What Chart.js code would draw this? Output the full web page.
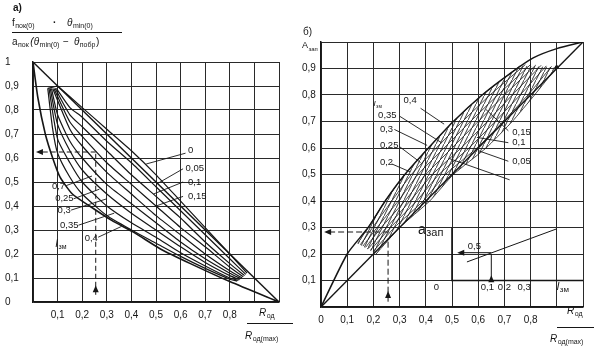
<!DOCTYPE html>
<html>
<head>
<meta charset="utf-8">
<script src="https://cdn.jsdelivr.net/npm/chart.js@4.4.0/dist/chart.umd.min.js"></script>
<style>
  body { margin: 0; background: #fff; width: 605px; height: 351px; position: relative; overflow: hidden; }
  #wrap-a { position: absolute; left: 0; top: 0; }
  #wrap-b { position: absolute; left: 300px; top: 0; }
</style>
</head>
<body>
<div id="wrap-a"><canvas id="chart-a" width="300" height="351"></canvas></div>
<div id="wrap-b"><canvas id="chart-b" width="305" height="351"></canvas></div>
<script>
// ---------- panel а) ----------
const diagA = [[0, 1], [1, 0]];
const lowA = [[0, 1], [0.02, 0.85], [0.05, 0.7], [0.08, 0.6], [0.11, 0.52], [0.16, 0.45], [0.23, 0.4], [0.32, 0.34], [0.41, 0.29], [0.52, 0.22], [0.64, 0.16], [0.8, 0.085], [1, 0]];
const capA = [[0.06, 0.89], [0.1, 0.9]];

// curves for I_зм = 0 ... 0.4
const curvesA = [
  [[0.1, 0.9], [0.2, 0.81], [0.3, 0.72], [0.4, 0.63], [0.5, 0.53], [0.6, 0.42], [0.7, 0.31], [0.8, 0.2], [0.87, 0.12]],
  [[0.095, 0.89], [0.15, 0.81], [0.2, 0.77], [0.3, 0.67], [0.4, 0.58], [0.5, 0.48], [0.6, 0.38], [0.7, 0.28], [0.8, 0.18], [0.865, 0.115]],
  [[0.09, 0.89], [0.15, 0.78], [0.2, 0.73], [0.3, 0.63], [0.4, 0.53], [0.5, 0.44], [0.6, 0.35], [0.7, 0.25], [0.8, 0.16], [0.86, 0.11]],
  [[0.085, 0.89], [0.15, 0.75], [0.2, 0.69], [0.3, 0.58], [0.4, 0.49], [0.5, 0.4], [0.6, 0.31], [0.7, 0.23], [0.8, 0.145], [0.855, 0.105]],
  [[0.08, 0.89], [0.15, 0.72], [0.2, 0.65], [0.3, 0.54], [0.4, 0.45], [0.5, 0.36], [0.6, 0.28], [0.7, 0.2], [0.8, 0.13], [0.85, 0.1]],
  [[0.075, 0.89], [0.1, 0.78], [0.15, 0.67], [0.2, 0.6], [0.3, 0.49], [0.4, 0.41], [0.5, 0.33], [0.6, 0.25], [0.7, 0.18], [0.8, 0.12], [0.845, 0.097]],
  [[0.07, 0.89], [0.1, 0.74], [0.15, 0.63], [0.2, 0.55], [0.3, 0.45], [0.4, 0.37], [0.5, 0.3], [0.6, 0.23], [0.7, 0.165], [0.8, 0.11], [0.84, 0.093]],
  [[0.065, 0.89], [0.1, 0.68], [0.15, 0.58], [0.2, 0.5], [0.3, 0.4], [0.4, 0.33], [0.5, 0.27], [0.6, 0.205], [0.7, 0.15], [0.8, 0.1], [0.835, 0.09]],
  [[0.06, 0.89], [0.08, 0.72], [0.1, 0.62], [0.15, 0.52], [0.2, 0.45], [0.3, 0.36], [0.4, 0.3], [0.5, 0.245], [0.6, 0.19], [0.7, 0.14], [0.8, 0.095], [0.83, 0.087]]
];

const leadersA = [
  [[0.62, 0.62], [0.46, 0.575]],
  [[0.61, 0.555], [0.5, 0.49]],
  [[0.61, 0.5], [0.49, 0.45]],
  [[0.61, 0.44], [0.5, 0.4]],
  [[0.135, 0.485], [0.24, 0.525]],
  [[0.165, 0.43], [0.27, 0.47]],
  [[0.155, 0.383], [0.3, 0.43]],
  [[0.185, 0.32], [0.33, 0.37]],
  [[0.265, 0.27], [0.36, 0.315]]
];
const labelsA = [
  ['0', 0.63, 0.63], ['0,05', 0.62, 0.555], ['0,1', 0.63, 0.5], ['0,15', 0.63, 0.44],
  ['0,7', 0.077, 0.483], ['0,25', 0.09, 0.43], ['0,3', 0.1, 0.383], ['0,35', 0.11, 0.32], ['0,4', 0.21, 0.267]
];
const dashA = [[[0.255, 0.03], [0.255, 0.625]], [[0.255, 0.625], [0.03, 0.625]]];

// ---------- panel б) ----------
const diagB = [[0, 0], [1, 1]];
const upB = [[0, 0], [0.1, 0.2], [0.18, 0.3], [0.245, 0.4], [0.32, 0.5], [0.41, 0.6], [0.505, 0.7], [0.615, 0.8], [0.72, 0.88], [0.81, 0.94], [0.9, 0.975], [1, 1]];
const curvesB = [
  [[0.14, 0.24], [0.18, 0.3], [0.245, 0.4], [0.32, 0.5], [0.41, 0.6], [0.505, 0.7], [0.615, 0.8], [0.76, 0.91]],
  [[0.15, 0.235], [0.197, 0.3], [0.27, 0.4], [0.345, 0.5], [0.44, 0.6], [0.54, 0.7], [0.645, 0.8], [0.78, 0.915]],
  [[0.16, 0.23], [0.214, 0.3], [0.295, 0.4], [0.37, 0.5], [0.47, 0.6], [0.57, 0.7], [0.675, 0.8], [0.8, 0.915]],
  [[0.17, 0.225], [0.23, 0.3], [0.32, 0.4], [0.4, 0.5], [0.5, 0.6], [0.6, 0.7], [0.7, 0.8], [0.82, 0.913]],
  [[0.18, 0.22], [0.25, 0.3], [0.34, 0.4], [0.425, 0.5], [0.535, 0.6], [0.635, 0.7], [0.73, 0.8], [0.84, 0.912]],
  [[0.19, 0.215], [0.265, 0.3], [0.365, 0.4], [0.45, 0.5], [0.565, 0.6], [0.665, 0.7], [0.76, 0.8], [0.86, 0.91]],
  [[0.2, 0.21], [0.28, 0.3], [0.39, 0.4], [0.475, 0.5], [0.595, 0.6], [0.695, 0.7], [0.79, 0.8], [0.88, 0.908]],
  [[0.21, 0.2], [0.3, 0.3], [0.415, 0.4], [0.505, 0.5], [0.63, 0.6], [0.73, 0.7], [0.815, 0.8], [0.9, 0.905]]
];
const leadersB = [
  [[0.38, 0.75], [0.47, 0.69]],
  [[0.3, 0.72], [0.46, 0.62]],
  [[0.28, 0.67], [0.405, 0.61]],
  [[0.3, 0.605], [0.38, 0.545]],
  [[0.27, 0.54], [0.34, 0.51]],
  [[0.63, 0.745], [0.715, 0.665]],
  [[0.595, 0.64], [0.715, 0.62]],
  [[0.6, 0.59], [0.715, 0.55]],
  [[0.49, 0.56], [0.72, 0.48]]
];
const labelsB = [
  ['0,4', 0.315, 0.78], ['0,35', 0.218, 0.725], ['0,3', 0.225, 0.67], ['0,25', 0.225, 0.61], ['0,2', 0.225, 0.545],
  ['0,15', 0.73, 0.66], ['0,1', 0.73, 0.62], ['0,05', 0.73, 0.55]
];
const dashB = [[[0.256, 0.02], [0.256, 0.26]], [[0.26, 0.283], [0.03, 0.283]]];
const insetB = [[0.557, 0.17], [0.9, 0.295]];
const insetBox = [[0.5, 0.3], [0.5, 0.1], [1, 0.1]];
const insetArrows = [[[0.65, 0.1], [0.65, 0.2]], [[0.65, 0.205], [0.53, 0.205]]];
const insetTicks = [['0', 0.43], ['0,1', 0.61], ['0,2', 0.675], ['0,3', 0.75]];

const INK = '#161616';
const FONT = "'Liberation Sans Narrow', 'Liberation Sans', Arial, sans-serif";

function seg(pts, w, dash, tension) {
  return {
    data: pts.map(p => ({ x: p[0], y: p[1] })),
    showLine: true,
    pointRadius: 0,
    borderColor: INK,
    borderWidth: w || 1.2,
    borderDash: dash || [],
    tension: tension || 0,
    fill: false
  };
}

function sub(ctx, x, y, main, small, size, italic) {
  ctx.font = (italic ? 'italic ' : '') + size + 'px ' + FONT;
  ctx.fillText(main, x, y);
  const w = ctx.measureText(main).width;
  ctx.font = (size - 3) + 'px ' + FONT;
  ctx.fillText(small, x + w + 0.5, y + 3);
  return x + w + ctx.measureText(small).width + 1;
}

function head(ctx, x, y, dir) {
  ctx.beginPath();
  if (dir === 'left') { ctx.moveTo(x, y); ctx.lineTo(x + 7, y - 3); ctx.lineTo(x + 7, y + 3); }
  else { ctx.moveTo(x, y); ctx.lineTo(x - 3, y + 7); ctx.lineTo(x + 3, y + 7); }
  ctx.closePath();
  ctx.fill();
}

function makeHatch() {
  const c = document.createElement('canvas');
  c.width = 4; c.height = 8;
  const g = c.getContext('2d');
  g.strokeStyle = '#222';
  g.lineWidth = 0.9;
  g.beginPath();
  g.moveTo(-1, 10); g.lineTo(5, -2);
  g.stroke();
  return g.createPattern(c, 'repeat');
}

function axisOpts(cb, fitW, fitH, isX) {
  return {
    type: 'linear', min: 0, max: 1,
    grid: { color: '#2a2a2a', lineWidth: 1, drawTicks: false },
    border: { color: INK, width: 1.5 },
    ticks: {
      stepSize: 0.1, autoSkip: false, callback: cb, color: INK,
      padding: isX ? 7 : 0, crossAlign: isX ? 'near' : 'far',
      font: { family: FONT, size: 10 }
    },
    afterFit: s => { if (isX) s.height = fitH; else s.width = fitW; }
  };
}

// ---------- chart а) ----------
const dsA = [seg(diagA, 1.4), seg(lowA, 1.6, null, 0.2), seg(capA, 1.2)]
  .concat(curvesA.map(c => seg(c, 1.2, null, 0.2)))
  .concat(leadersA.map(c => seg(c, 0.9)))
  .concat(dashA.map(c => seg(c, 1, [5, 3])));

new Chart(document.getElementById('chart-a'), {
  type: 'scatter',
  data: { datasets: dsA },
  options: {
    responsive: false,
    animation: false,
    layout: { padding: { left: 5, right: 21, top: 62, bottom: 0 } },
    plugins: { legend: { display: false }, tooltip: { enabled: false } },
    scales: {
      x: axisOpts(v => { const k = Math.round(v * 10); return (k >= 1 && k <= 8) ? '0,' + k : ''; }, 0, 49, true),
      y: axisOpts(v => { const k = Math.round(v * 10); return k === 10 ? '1' : (k === 0 ? '0' : '0,' + k); }, 28, 0, false)
    }
  },
  plugins: [{
    id: 'notesA',
    afterDraw(chart) {
      const ctx = chart.ctx, sx = chart.scales.x, sy = chart.scales.y;
      const px = v => sx.getPixelForValue(v), py = v => sy.getPixelForValue(v);
      ctx.save();
      ctx.fillStyle = INK; ctx.strokeStyle = INK;
      ctx.textBaseline = 'middle';
      ctx.font = '9.5px ' + FONT;
      labelsA.forEach(l => ctx.fillText(l[0], px(l[1]), py(l[2])));
      sub(ctx, px(0.09), py(0.24), 'I', 'зм', 10, true);
      head(ctx, px(0.255), py(0.07), 'up');
      head(ctx, px(0.012), py(0.625), 'left');
      // titles
      ctx.font = 'bold 10px ' + FONT;
      ctx.fillText('а)', 13, 8);
      let x = sub(ctx, 12, 23, 'f', 'пок(0)', 10, false);
      ctx.font = 'bold 10px ' + FONT; ctx.fillText('·', 53, 23);
      sub(ctx, 67, 23, 'θ', 'min(0)', 10, true);
      ctx.lineWidth = 1; ctx.beginPath(); ctx.moveTo(12, 32.5); ctx.lineTo(122, 32.5); ctx.stroke();
      x = sub(ctx, 12, 42, 'a', 'пок', 10, false);
      x = sub(ctx, x + 1, 42, '(θ', 'min(0)', 10, true);
      ctx.font = '10px ' + FONT; ctx.fillText('−', x + 3, 42);
      x = sub(ctx, x + 14, 42, 'θ', 'побр', 10, true);
      ctx.font = '10px ' + FONT; ctx.fillText(')', x, 42);
      sub(ctx, 259, 313, 'R', 'од', 10, true);
      ctx.beginPath(); ctx.moveTo(247, 323.5); ctx.lineTo(293, 323.5); ctx.stroke();
      sub(ctx, 245, 336, 'R', 'од(max)', 10, true);
      ctx.restore();
    }
  }]
});

// ---------- chart б) ----------
const hatch = makeHatch();
const dsB = [seg(diagB, 1.4), seg(upB, 1.5, null, 0.2)]
  .concat(curvesB.map(c => seg(c, 0.8, null, 0.15)))
  .concat(leadersB.map(c => seg(c, 0.9)))
  .concat(dashB.map(c => seg(c, 1, [6, 3])))
  .concat([seg(insetB, 1), seg(insetBox, 1.6)])
  .concat(insetArrows.map(c => seg(c, 1)));

new Chart(document.getElementById('chart-b'), {
  type: 'scatter',
  data: { datasets: dsB },
  options: {
    responsive: false,
    animation: false,
    layout: { padding: { left: 2, right: 22, top: 42, bottom: 0 } },
    plugins: { legend: { display: false }, tooltip: { enabled: false } },
    scales: {
      x: axisOpts(v => { const k = Math.round(v * 10); return k === 0 ? '0' : (k <= 8 ? '0,' + k : ''); }, 0, 44, true),
      y: axisOpts(v => { const k = Math.round(v * 10); return (k >= 1 && k <= 9) ? '0,' + k : ''; }, 19, 0, false)
    }
  },
  plugins: [{
    id: 'notesB',
    beforeDatasetsDraw(chart) {
      const ctx = chart.ctx, sx = chart.scales.x, sy = chart.scales.y;
      const top = curvesB[0], bot = curvesB[curvesB.length - 1];
      ctx.save();
      ctx.beginPath();
      top.forEach((p, i) => { const X = sx.getPixelForValue(p[0]), Y = sy.getPixelForValue(p[1]); i ? ctx.lineTo(X, Y) : ctx.moveTo(X, Y); });
      bot.slice().reverse().forEach(p => ctx.lineTo(sx.getPixelForValue(p[0]), sy.getPixelForValue(p[1])));
      ctx.closePath();
      ctx.fillStyle = hatch;
      ctx.fill();
      ctx.restore();
    },
    afterDraw(chart) {
      const ctx = chart.ctx, sx = chart.scales.x, sy = chart.scales.y;
      const px = v => sx.getPixelForValue(v), py = v => sy.getPixelForValue(v);
      ctx.save();
      ctx.fillStyle = INK; ctx.strokeStyle = INK;
      ctx.textBaseline = 'middle';
      ctx.font = '9.5px ' + FONT;
      labelsB.forEach(l => ctx.fillText(l[0], px(l[1]), py(l[2])));
      insetTicks.forEach(t => ctx.fillText(t[0], px(t[1]), py(0.075)));
      ctx.fillText('0,5', px(0.56), py(0.228));
      sub(ctx, px(0.2), py(0.768), 'I', 'зм', 8, true);
      sub(ctx, px(0.9), py(0.075), 'l', 'зм', 11, true);
      sub(ctx, px(0.37), py(0.29), 'a', 'зап', 14, false);
      head(ctx, px(0.256), py(0.06), 'up');
      head(ctx, px(0.012), py(0.283), 'left');
      head(ctx, px(0.65), py(0.12), 'up');
      head(ctx, px(0.52), py(0.205), 'left');
      ctx.beginPath(); ctx.arc(px(0.9), py(0.905), 2, 0, Math.PI * 2); ctx.fill();
      ctx.font = '10px ' + FONT;
      ctx.fillText('б)', 3, 32);
      sub(ctx, 2, 46, 'A', 'зап', 9, false);
      ctx.lineWidth = 1;
      sub(ctx, 267, 311, 'R', 'од', 10, true);
      ctx.beginPath(); ctx.moveTo(257, 327.5); ctx.lineTo(294, 327.5); ctx.stroke();
      sub(ctx, 250, 339, 'R', 'од(max)', 10, true);
      ctx.restore();
    }
  }]
});
</script>
</body>
</html>
